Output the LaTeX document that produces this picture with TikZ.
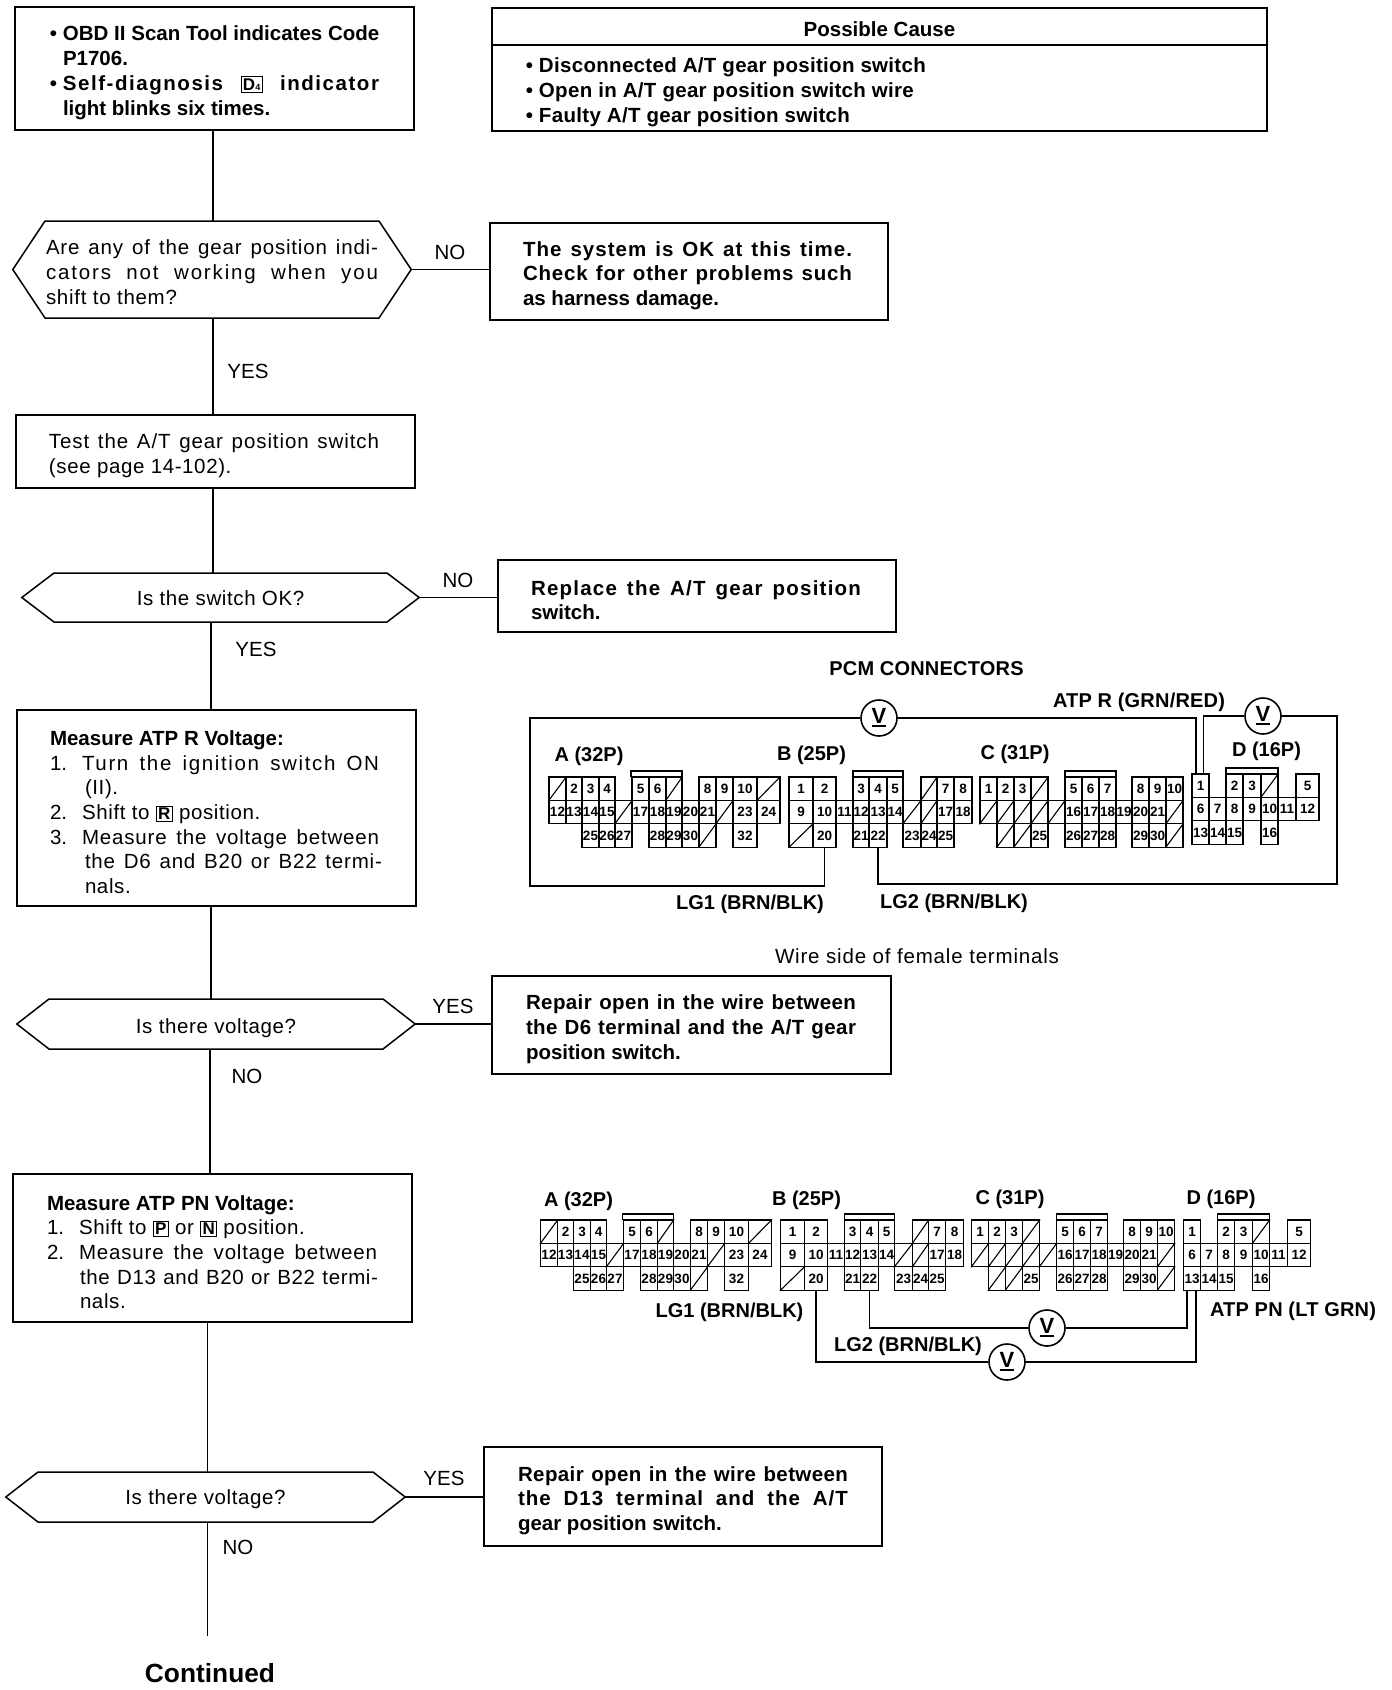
\documentclass[tikz,border=0pt]{standalone}
\usepackage{fontspec}
\setmainfont{Liberation Sans}
\newcommand\bodyfont{\fontsize{20.5}{24.7}\selectfont}
\newcommand\labfont{\fontsize{20}{24}\selectfont\bfseries}
\newcommand\pinfont{\fontsize{13.5}{14}\selectfont\bfseries}
\newcommand\jls[3]{\makebox[#1pt][s]{\addfontfeature{LetterSpace=#2}#3}}
\newcommand\ls[2]{{\addfontfeature{LetterSpace=#1}#2}}
\newcommand\dropbox[2]{\raisebox{-#1pt}[0pt][0pt]{#2}}
\newcommand\keycap[1]{{\setlength\fboxsep{1.3pt}\setlength\fboxrule{1pt}\fbox{\fontsize{17}{17}\selectfont\bfseries #1}}}
\newcommand\bull{\leavevmode\llap{\textbullet\hspace{6pt}}}
\tikzset{
  x=1pt,y=-1pt,
  wire/.style={line width=1.7pt,line join=miter},
  flowbox/.style={draw,line width=1.7pt,inner sep=0pt,font=\bodyfont},
  hexnode/.style={inner sep=0pt,font=\bodyfont\addfontfeature{LetterSpace=3}},
  hexline/.style={line width=1.5pt,line join=miter},
  flowlab/.style={inner sep=0pt,font=\bodyfont},
  conlab/.style={inner sep=0pt,font=\labfont},
  pincell/.style={draw,line width=1.2pt,inner sep=0pt,font=\pinfont},
  meter/.style={draw,circle,line width=1.6pt,minimum size=36pt,inner sep=0pt,fill=white,font=\fontsize{22}{22}\selectfont\bfseries},
}
\newcommand\flowrect[7]{%
  \pgfmathsetmacro\bw{#4-#2}\pgfmathsetmacro\bh{#5-#3}%
  \node[flowbox,minimum width=\bw pt,minimum height=\bh pt] (#1) at ({(#2+#4)/2},{(#3+#5)/2})
   {\makebox[\bw pt][l]{\hspace*{#6pt}\parbox[c]{\dimexpr\bw pt-#6pt\relax}{\vspace*{8.4pt}#7}}};}
\newcommand\flowhex[7]{%
  \pgfmathsetmacro\bw{#3-#2}\pgfmathsetmacro\bh{#5-#4}%
  \node[hexnode,minimum width=\bw pt,minimum height=\bh pt] (#1) at ({(#2+#3)/2},{(#4+#5)/2}) {#7};
  \draw[hexline] (#1.west) -- ({#2+#6},#4) -- ({#3-#6},#4) -- (#1.east) -- ({#3-#6},#5) -- ({#2+#6},#5) -- cycle;}
\newcommand\pinrow[3]{%
  \foreach \lab/\xx/\ww in {#3}{%
    \node[pincell,minimum width=\ww pt,minimum height=23.4pt] (\cid#1\lab) at ({\xx+\ww/2},{788.7+#2*23.4}) {\lab};}}
\newcommand\norow[3]{%
  \foreach \xx/\ww in {#3}{%
    \node[pincell,minimum width=\ww pt,minimum height=23.4pt] (\cid#1x\xx) at ({\xx+\ww/2},{788.7+#2*23.4}) {};
    \draw[line width=1.1pt] (\cid#1x\xx.south west) -- (\cid#1x\xx.north east);}}
\newcommand\capbar[2]{\draw[line width=1.2pt] (#1,777) -- (#1,771) -- (#2,771) -- (#2,777);}
\newcommand\connector[4]{%
  \def\cid{#1}%
  \begin{scope}[shift={(#2,#3)}]
  \pinrow{A}{0}{2/566/16,3/582/17,4/599/16,5/632/17,6/649/17,8/699/17,9/716/17,10/733/24}
  \norow{A}{0}{549/17,666/16,757/23}
  \pinrow{A}{1}{12/549/17,13/566/16,14/582/17,15/599/16,17/632/17,18/649/17,19/666/16,20/682/17,21/699/17,23/733/24,24/757/23}
  \norow{A}{1}{615/17,716/17}
  \pinrow{A}{2}{25/582/17,26/599/16,27/615/17,28/649/17,29/666/16,30/682/17,32/733/24}
  \norow{A}{2}{699/17}
  \capbar{631}{682}
  \pinrow{B}{0}{1/789/24,2/813/23,3/853/16,4/869/18,5/887/16,7/937/17,8/954/18}
  \norow{B}{0}{921/16}
  \pinrow{B}{1}{9/789/24,10/813/23,11/836/17,12/853/16,13/869/18,14/887/16,17/937/17,18/954/18}
  \norow{B}{1}{903/18,921/16}
  \pinrow{B}{2}{20/813/23,21/853/16,22/869/18,23/903/18,24/921/16,25/937/17}
  \norow{B}{2}{789/24}
  \capbar{853}{903}
  \pinrow{C}{0}{1/980/17,2/997/17,3/1014/17,5/1065/17,6/1082/17,7/1099/17,8/1132/17,9/1149/17,10/1166/17}
  \norow{C}{0}{1031/17}
  \pinrow{C}{1}{16/1065/17,17/1082/17,18/1099/17,19/1116/16,20/1132/17,21/1149/17}
  \norow{C}{1}{980/17,997/17,1014/17,1031/17,1048/17,1166/17}
  \pinrow{C}{2}{25/1031/17,26/1065/17,27/1082/17,28/1099/17,29/1132/17,30/1149/17}
  \norow{C}{2}{997/17,1014/17,1166/17}
  \capbar{1065}{1116}
  \begin{scope}[yshift=#4pt]
  \pinrow{D}{0}{1/1192/17,2/1226/17,3/1243/18,5/1296/23}
  \norow{D}{0}{1261/17}
  \pinrow{D}{1}{6/1192/17,7/1209/17,8/1226/17,9/1243/18,10/1261/17,11/1278/18,12/1296/23}
  \pinrow{D}{2}{13/1192/17,14/1209/17,15/1226/17,16/1261/17}
  \capbar{1226}{1278}
  \end{scope}
  \end{scope}}
\begin{document}
\begin{tikzpicture}
\useasboundingbox (0,0) rectangle (1392,1690);
\fill[white] (0,0) rectangle (1392,1690);
% flow boxes
\flowrect{box1}{15}{7}{414}{130}{48}{\bfseries\bull OBD II Scan Tool indicates Code\\P1706.\\\bull\jls{316}{7.5}{Self-diagnosis \keycap{D{\fontsize{9}{9}\selectfont 4}} indicator}\\light blinks six times.}
\node[flowbox,font=\bodyfont\bfseries,minimum width=775pt,minimum height=37pt] (cause) at (879.5,26.5) {\dropbox{9.5}{Possible Cause}};
\flowrect{causes}{492}{45}{1267}{131}{47}{\bfseries\bull\ls{1.5}{Disconnected A/T gear position switch}\\\bull\ls{1.5}{Open in A/T gear position switch wire}\\\bull\ls{1.5}{Faulty A/T gear position switch}}
\flowhex{hex1}{13}{411}{221}{318}{32}{\parbox[c]{332pt}{\vspace*{5.4pt}\jls{332}{4}{Are any of the gear position indi-}\\\jls{332}{9}{cators not working when you}\\\ls{3.5}{shift to them?}}}
\flowrect{box2}{490}{223}{888}{320}{33}{\bfseries\jls{329}{5}{The system is OK at this time.}\\\jls{329}{4}{Check for other problems such}\\as harness damage.}
\flowrect{box3}{16}{415}{415}{488}{33}{\jls{330}{4.5}{Test the A/T gear position switch}\\\ls{3}{(see page 14-102).}}
\flowhex{hex2}{22}{419}{573}{622}{32}{\dropbox{8}{Is the switch OK?}}
\flowrect{box4}{498}{560}{896}{632}{33}{\bfseries\jls{330}{6}{Replace the A/T gear position}\\switch.}
\flowrect{box5}{17}{710}{416}{906}{33}{\textbf{Measure ATP R Voltage:}\\1.\hspace{15pt}\jls{297}{8}{Turn the ignition switch ON}\\\hspace*{35pt}\ls{3}{(II).}\\2.\hspace{15pt}\ls{3}{Shift to \keycap{R} position.}\\3.\hspace{15pt}\jls{297}{4}{Measure the voltage between}\\\hspace*{35pt}\jls{297}{4}{the D6 and B20 or B22 termi-}\\\hspace*{35pt}\ls{3}{nals.}}
\flowhex{hex3}{17}{415}{999}{1049}{32}{\dropbox{9}{Is there voltage?}}
\flowrect{box6}{492}{976}{891}{1074}{34}{\bfseries\jls{330}{2}{Repair open in the wire between}\\\jls{330}{2}{the D6 terminal and the A/T gear}\\position switch.}
\flowrect{box7}{13}{1174}{412}{1322}{34}{\textbf{Measure ATP PN Voltage:}\\1.\hspace{15pt}\ls{3}{Shift to \keycap{P} or \keycap{N} position.}\\2.\hspace{15pt}\jls{298}{4}{Measure the voltage between}\\\hspace*{33pt}\jls{298}{3}{the D13 and B20 or B22 termi-}\\\hspace*{33pt}\ls{3}{nals.}}
\flowhex{hex4}{6}{405}{1472}{1522}{32}{\dropbox{7.5}{Is there voltage?}}
\flowrect{box8}{484}{1447}{882}{1546}{34}{\bfseries\jls{330}{2}{Repair open in the wire between}\\\jls{330}{5}{the D13 terminal and the A/T}\\gear position switch.}
\node[inner sep=0pt,minimum height=74pt,font=\fontsize{26.3}{30}\selectfont\bfseries] (cont) at (210,1673) {Continued};
% flow connectors
\coordinate (s1) at (213,0);
\coordinate (s2) at (211,0);
\coordinate (s3) at (210,0);
\coordinate (s4) at (207.5,0);
\draw[wire] (box1.south -| s1) -- (hex1.north -| s1);
\draw[wire] (hex1.east) -- (box2.west |- hex1.east);
\draw[wire] (hex1.south -| s1) -- (box3.north -| s1);
\draw[wire] (box3.south -| s1) -- (hex2.north -| s1);
\draw[wire] (hex2.east) -- (box4.west |- hex2.east);
\draw[wire] (hex2.south -| s2) -- (box5.north -| s2);
\draw[wire] (box5.south -| s2) -- (hex3.north -| s2);
\draw[wire] (hex3.east) -- (box6.west |- hex3.east);
\draw[wire] (hex3.south -| s3) -- (box7.north -| s3);
\draw[wire] (box7.south -| s4) -- (hex4.north -| s4);
\draw[wire] (hex4.east) -- (box8.west |- hex4.east);
\draw[wire] (hex4.south -| s4) -- (cont.north -| s4);
% flow labels
\node[flowlab] (no1) at (450,252) {NO};
\node[flowlab] (yes1) at (248,371) {YES};
\node[flowlab] (no2) at (458,580) {NO};
\node[flowlab] (yes2) at (256,649) {YES};
\node[flowlab] (yes3) at (453,1006) {YES};
\node[flowlab] (no3) at (247,1076) {NO};
\node[flowlab] (yes4) at (444,1478) {YES};
\node[flowlab] (no4) at (238,1547) {NO};
% connectors
\connector{c1}{0}{0}{3}
\connector{c2}{-8.5}{443}{0}
\node[conlab] (pcm) at (926.5,669) {\ls{1}{PCM CONNECTORS}};
\node[conlab] (atpr) at (1139,702) {\ls{1}{ATP R (GRN/RED)}};
\node[conlab] (a1) at (589,756) {A (32P)};
\node[conlab] (b1) at (811.5,755) {B (25P)};
\node[conlab] (c1l) at (1015,754) {C (31P)};
\node[conlab] (d1) at (1266.5,751) {D (16P)};
\node[conlab] (lg11) at (750,904) {LG1 (BRN/BLK)};
\node[conlab] (lg21) at (954,903) {LG2 (BRN/BLK)};
\node[flowlab] (wireside) at (917,956) {\ls{4}{Wire side of female terminals}};
\node[conlab] (a2) at (578.5,1201) {A (32P)};
\node[conlab] (b2) at (806.5,1200) {B (25P)};
\node[conlab] (c2l) at (1010,1199) {C (31P)};
\node[conlab] (d2) at (1221,1199) {D (16P)};
\node[conlab] (lg12) at (729.5,1312) {LG1 (BRN/BLK)};
\node[conlab] (lg22) at (908,1346) {LG2 (BRN/BLK)};
\node[conlab] (atppn) at (1293,1311) {\ls{1}{ATP PN (LT GRN)}};
\newcommand\vmark{\vbox{\hbox{V}\kern1pt\hrule height 2.2pt}}
\node[meter] (v1) at (879,718) {\vmark};
\node[meter] (v2) at (1263,716) {\vmark};
\node[meter] (v3) at (1047,1328) {\vmark};
\node[meter] (v4) at (1007,1362) {\vmark};
\coordinate (wa) at (530,886);
\coordinate (wb) at (1337,884);
\draw[wire] (v1.west) -| (wa) -| (c1B20.south);
\draw[wire] (v1.east) -| ([xshift=-4.5pt]c1D1.north);
\draw[wire] (c1B22.south) |- (wb) |- (v2.east);
\draw[wire] (v2.west) -| ([xshift=3pt]c1D1.north);
\draw[wire] (c2B20.south) |- (v4.west);
\draw[wire] (v4.east) -| ([xshift=4pt]c2D13.south);
\draw[wire] (c2B22.south) |- (v3.west);
\draw[wire] (v3.east) -| ([xshift=-5pt]c2D13.south);
\end{tikzpicture}
\end{document}
